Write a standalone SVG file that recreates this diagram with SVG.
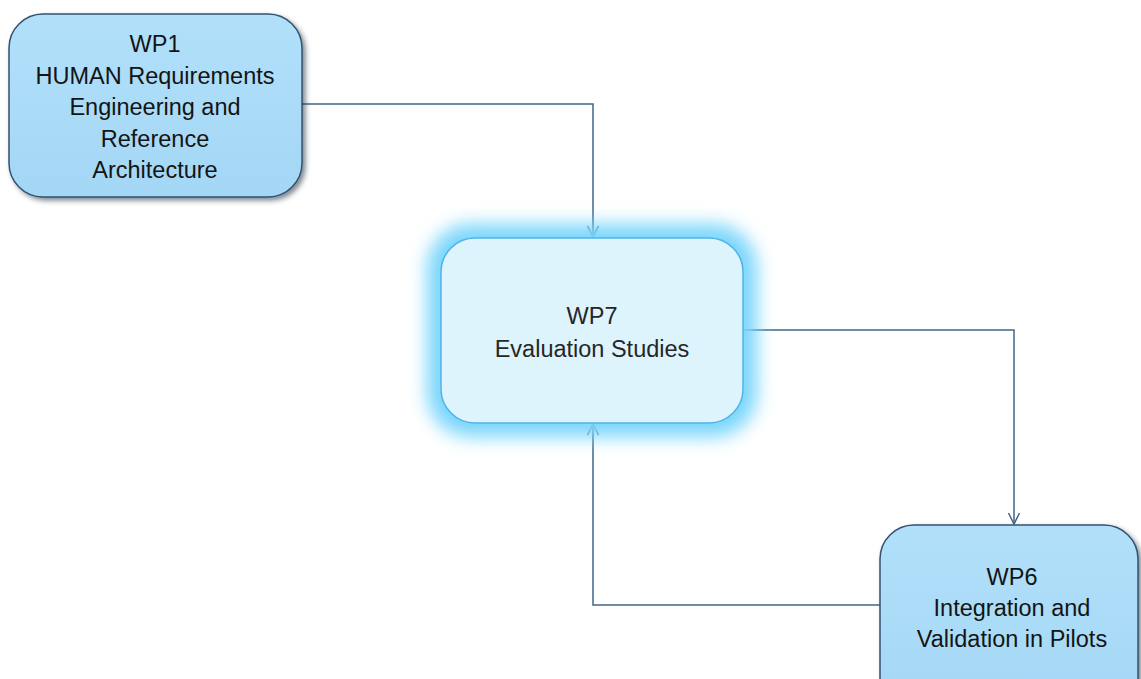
<svg xmlns="http://www.w3.org/2000/svg" width="1141" height="679" viewBox="0 0 1141 679">
<defs>
<style>
.lbl{font-family:"Liberation Sans",Arial,sans-serif;font-size:23.5px;fill:#141414;text-anchor:middle}
.lbl7{font-family:"Liberation Sans",Arial,sans-serif;font-size:23.5px;fill:#262626;text-anchor:middle}
.dark{fill:url(#gBlue);stroke:#34526e;stroke-width:1.5}
.conn{fill:none;stroke:#3f6788;stroke-width:1.5}
</style>
<linearGradient id="gBlue" x1="0" y1="0" x2="0" y2="1">
<stop offset="0" stop-color="#b2e0fa"/>
<stop offset="1" stop-color="#a3d7f5"/>
</linearGradient>
<filter id="shadow" x="-10%" y="-10%" width="125%" height="125%">
<feGaussianBlur in="SourceAlpha" stdDeviation="2.5"/>
<feOffset dx="3" dy="3" result="b"/>
<feFlood flood-color="#1d2e40" flood-opacity="0.55"/>
<feComposite in2="b" operator="in"/>
<feMerge><feMergeNode/><feMergeNode in="SourceGraphic"/></feMerge>
</filter>
<filter id="glow" x="-30%" y="-40%" width="160%" height="180%">
<feGaussianBlur stdDeviation="9"/>
</filter>
<marker id="arr" viewBox="0 0 14 14" refX="13" refY="7" markerWidth="14" markerHeight="14" markerUnits="userSpaceOnUse" orient="auto">
<path d="M2,1.5 L13,7 L2,12.5" fill="none" stroke="#3f6788" stroke-width="1.5"/>
</marker>
</defs>
<rect width="1141" height="679" fill="#ffffff"/>
<g id="connectors">
<path class="conn" d="M302,104 H593 V237" marker-end="url(#arr)"/>
<path class="conn" d="M743,330 H1014 V524" marker-end="url(#arr)"/>
<path class="conn" d="M880,605 H593 V424" marker-end="url(#arr)"/>
</g>
<g id="WP7">
<rect x="427" y="224" width="330" height="213" rx="44" fill="#7ad6fb" filter="url(#glow)"/>
<rect x="441" y="238" width="302" height="185" rx="34" fill="#ddf4fd" stroke="#4db4ea" stroke-width="1.5"/>
<text class="lbl7" x="592" y="324">WP7</text>
<text class="lbl7" x="592" y="357">Evaluation Studies</text>
</g>
<g id="WP1">
<rect class="dark" x="9" y="14" width="293" height="183" rx="34" filter="url(#shadow)"/>
<text class="lbl" x="155" y="52">WP1</text>
<text class="lbl" x="155" y="84">HUMAN Requirements</text>
<text class="lbl" x="155" y="115">Engineering and</text>
<text class="lbl" x="155" y="147">Reference</text>
<text class="lbl" x="155" y="178">Architecture</text>
</g>
<g id="WP6">
<rect class="dark" x="880" y="525" width="258" height="190" rx="34" filter="url(#shadow)"/>
<text class="lbl" x="1012" y="585">WP6</text>
<text class="lbl" x="1012" y="616">Integration and</text>
<text class="lbl" x="1012" y="647">Validation in Pilots</text>
</g>
</svg>
